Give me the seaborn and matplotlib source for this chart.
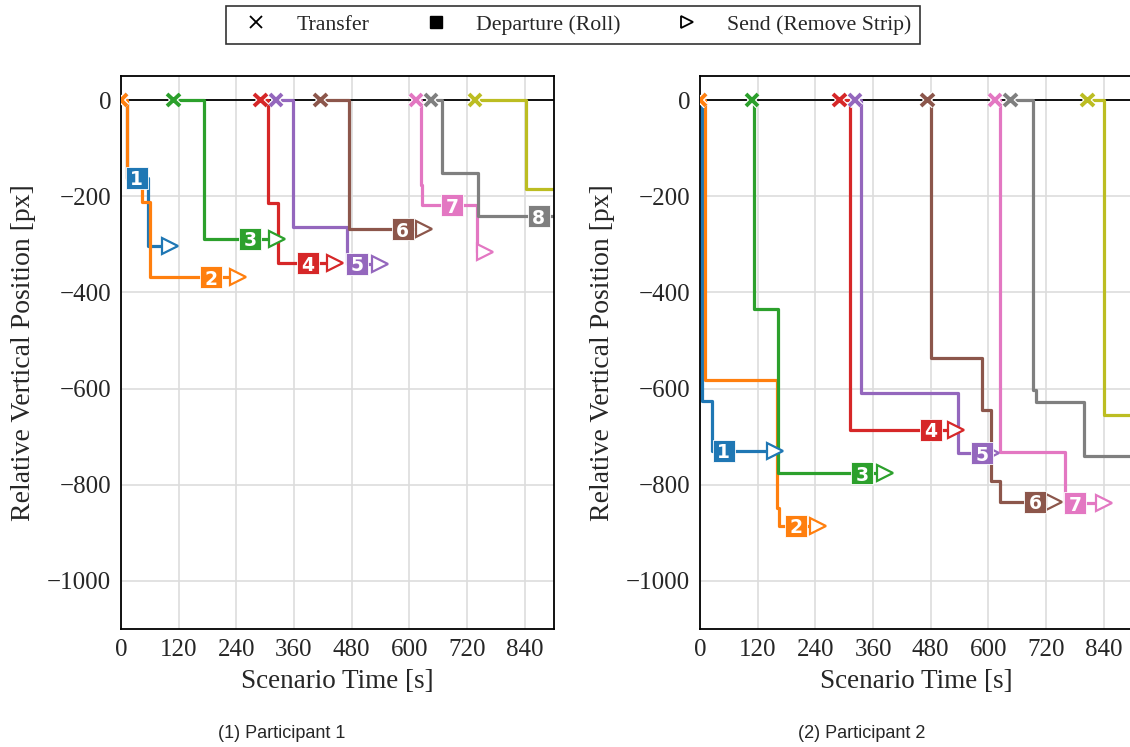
import matplotlib
matplotlib.use("Agg")
import matplotlib.pyplot as plt
import matplotlib.patheffects as pe
from matplotlib.lines import Line2D
import pandas as pd
import seaborn as sns

# ---------------------------------------------------------------- data
aircraft = ["1", "2", "3", "4", "5", "6", "7", "8", "9"]

# Participant 1: transfer time, step changes (time, new level), departure, send
p1_transfer = [0, 0, 109, 290, 323, 415, 614, 645, 737]
p1_step_times = [[12, 57], [12, 43, 60], [172], [305, 326], [358, 470],
                 [474], [624, 626, 740], [668, 742], [843]]
p1_step_levels = [[-162, -303], [-165, -212, -369], [-288], [-214, -339],
                  [-264, -340], [-269], [-177, -219, -316], [-151, -242], [-185]]
p1_departure = [33, 187, 269, 389, 492, 586, 689, 869, None]
p1_send = [102, 243, 325, 446, 538, 631, 758, None, None]

# Participant 2
p2_transfer = [0, 0, 108, 290, 323, 473, 614, 646, 806]
p2_step_times = [[5, 26], [10, 161, 164], [113, 162], [313], [334, 537],
                 [480, 587, 605, 625], [624, 760], [692, 699, 800], [840]]
p2_step_levels = [[-625, -729], [-582, -848, -885], [-434, -776], [-686],
                  [-609, -735], [-537, -644, -792, -835], [-731, -838],
                  [-604, -628, -741], [-656]]
p2_departure = [49, 199, 338, 480, 586, 698, 781, None, None]
p2_send = [157, 245, 386, 532, 605, 736, 840, None, None]

x_ticks = [0, 120, 240, 360, 480, 600, 720, 840]
y_ticks = [0, -200, -400, -600, -800, -1000]
x_limits = (0, 900)
y_limits = (-1100, 50)

panel_titles = ["(1) Participant 1", "(2) Participant 2"]
legend_labels = ["Transfer", "Departure (Roll)", "Send (Remove Strip)"]

# ---------------------------------------------------------------- style
sns.set_style("white")
plt.rcParams["font.family"] = ["Liberation Serif", "DejaVu Serif"]
plt.rcParams["axes.unicode_minus"] = True
palette = sns.color_palette("tab10", len(aircraft))
outline = [pe.withStroke(linewidth=4.5, foreground="white")]


def path_table(transfer, step_times, step_levels, send):
    rows = []
    for i, name in enumerate(aircraft):
        end = send[i] if send[i] is not None else x_limits[1] + 20
        times = [transfer[i]] + step_times[i] + [end]
        levels = [0] + step_levels[i] + [step_levels[i][-1]]
        for order, (t, y) in enumerate(zip(times, levels)):
            rows.append({"aircraft": name, "order": order, "t": t, "y": y})
    return pd.DataFrame(rows)


def level_at(t, step_times, step_levels):
    level = 0
    for st, sl in zip(step_times, step_levels):
        if t >= st:
            level = sl
    return level


def draw_panel(ax, transfer, step_times, step_levels, departure, send):
    ax.axhline(0, color="black", lw=1.3, zorder=1.5)
    frame = path_table(transfer, step_times, step_levels, send)
    sns.lineplot(data=frame, x="t", y="y", hue="aircraft", hue_order=aircraft,
                 palette=palette, drawstyle="steps-post", estimator=None,
                 sort=False, lw=2.3, legend=False, ax=ax, zorder=2)
    for i, name in enumerate(aircraft):
        c = palette[i]
        ax.plot(transfer[i], 0, marker="x", ms=9, mew=2.8, color=c,
                ls="none", zorder=5, path_effects=outline)
        if send[i] is not None:
            ys = level_at(send[i], step_times[i], step_levels[i])
            ax.plot(send[i], ys, marker=">", ms=11.5, mfc="white", mec=c,
                    mew=1.6, ls="none", zorder=5)
        if departure[i] is not None:
            yd = level_at(departure[i], step_times[i], step_levels[i])
            ax.plot(departure[i], yd, marker="s", ms=16, color=c,
                    mec="white", mew=0.6, ls="none", zorder=6)
            ax.text(departure[i], yd, name, color="white", fontsize=13.5,
                    fontweight="bold", family="DejaVu Sans", ha="center",
                    va="center_baseline", zorder=7)

    ax.set_xlim(*x_limits)
    ax.set_ylim(*y_limits)
    ax.set_xticks(x_ticks)
    ax.set_yticks(y_ticks)
    ax.grid(True, color="#dddddd", lw=1.2)
    ax.set_axisbelow(True)
    ax.tick_params(length=0, pad=7, labelsize=18)
    for s in ax.spines.values():
        s.set_color("black")
        s.set_linewidth(1.3)
    ax.set_xlabel("Scenario Time [s]", fontsize=19.5, labelpad=6)
    ax.set_ylabel("Relative Vertical Position [px]", fontsize=20, labelpad=8)


fig = plt.figure(figsize=(11.3, 7.47), dpi=100)
W, H = 1130, 747
ax1 = fig.add_axes([121 / W, 1 - 629 / H, 432.5 / W, 553 / H])
ax2 = fig.add_axes([700 / W, 1 - 629 / H, 432.5 / W, 553 / H])

draw_panel(ax1, p1_transfer, p1_step_times, p1_step_levels, p1_departure, p1_send)
draw_panel(ax2, p2_transfer, p2_step_times, p2_step_levels, p2_departure, p2_send)

fig.text(282 / W, 1 - 733 / H, panel_titles[0], ha="center", va="center",
         fontsize=13, family="Liberation Sans")
fig.text(862 / W, 1 - 733 / H, panel_titles[1], ha="center", va="center",
         fontsize=13, family="Liberation Sans")

handles = [
    Line2D([], [], marker="x", color="black", ls="none", ms=8, mew=1.3),
    Line2D([], [], marker="s", color="black", ls="none", ms=9),
    Line2D([], [], marker=">", mfc="white", mec="black", ls="none", ms=9, mew=1.3),
]
leg = fig.legend(handles, legend_labels, loc="upper center", ncol=3,
                 bbox_to_anchor=(573 / W, 1 - 6 / H), fontsize=15.7,
                 frameon=True, fancybox=False, edgecolor="black",
                 handlelength=2, handletextpad=0.85, columnspacing=2.05,
                 borderpad=0.4, borderaxespad=0)
leg.get_frame().set_linewidth(1.2)

fig.savefig("out.png", dpi=100)
